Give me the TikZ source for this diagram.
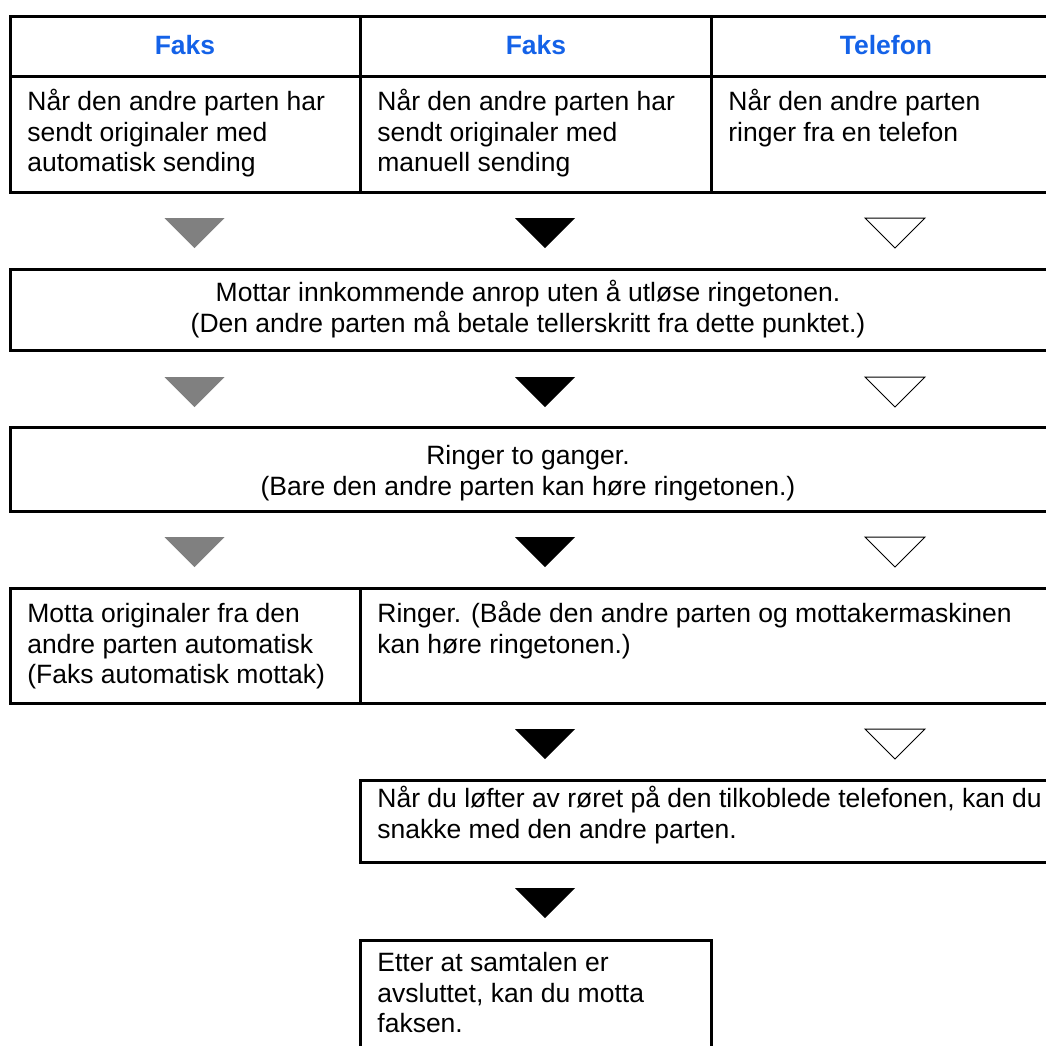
\documentclass[tikz,border=0pt]{standalone}
\usepackage{fontspec}
\setmainfont{Liberation Sans}
\usepackage{xcolor}
\usepackage{tikz}
\definecolor{headblue}{RGB}{20,98,232}
\definecolor{arrgray}{RGB}{128,128,128}
\newcommand{\bodyfont}{\fontsize{13.25}{15.3}\selectfont}

\begin{document}
\begin{tikzpicture}[
      x=0.5pt, y=-0.5pt,
      frame/.style={line width=1.5pt},
      head/.style={anchor=base, inner sep=0pt, font=\bodyfont\bfseries, text=headblue},
      cell/.style={anchor=north west, inner sep=0pt, align=left, font=\bodyfont, yshift=10.71pt},
      mid/.style={anchor=north, inner sep=0pt, align=center, font=\bodyfont, yshift=10.71pt},
      tri/.pic={\path[pic actions] (-30,0) -- (30,0) -- (0,30) -- cycle;},
      grayarr/.style={fill=arrgray},
      blackarr/.style={fill=black},
      whitearr/.style={draw=black, line width=0.5pt, fill=white}
    ]
    \useasboundingbox (0,0) rectangle (1046,1046);
    \clip (0,0) rectangle (1046,1046);

    % frames
    \draw[frame] (10,16) rectangle (1060,192);
    \draw[frame] (10,76) -- (1060,76);
    \draw[frame] (360,16) -- (360,192);
    \draw[frame] (711,16) -- (711,192);
    \draw[frame] (10,269) rectangle (1060,350);
    \draw[frame] (10,427) rectangle (1060,511);
    \draw[frame] (10,588) rectangle (1060,703);
    \draw[frame] (360,588) -- (360,703);
    \draw[frame] (360,780) rectangle (1060,862);
    \draw[frame] (360,940) rectangle (711,1060);

    % headers
    \node[head] (hdfax1) at (185,54)   {Faks};
    \node[head] (hdfax2) at (536,54)   {Faks};
    \node[head] (hdtel)  at (886,54)   {Telefon};

    \node[cell] (autosend)  at (27,110)  {\strut Når den andre parten har\\sendt originaler med\\automatisk sending};
    \node[cell] (mansend)   at (377,110) {\strut Når den andre parten har\\sendt originaler med\\manuell sending};
    \node[cell] (phonecall) at (728,110) {\strut Når den andre parten\\ringer fra en telefon};

    \node[mid] (silentrecv) at (528,301) {\strut Mottar innkommende anrop uten å utløse ringetonen.\\(Den andre parten må betale tellerskritt fra dette punktet.)};
    \node[mid] (ringtwice)  at (528,464) {\strut Ringer to ganger.\\(Bare den andre parten kan høre ringetonen.)};

    \node[cell] (autorecv) at (27,622)  {\strut Motta originaler fra den\\andre parten automatisk\\(Faks automatisk mottak)};
    \node[cell] (ringboth) at (377,622) {\strut Ringer. (Både den andre parten og mottakermaskinen\\kan høre ringetonen.)};
    \node[cell] (pickup)   at (377,807) {\strut Når du løfter av røret på den tilkoblede telefonen, kan du\\snakke med den andre parten.};
    \node[cell] (afterfax) at (377,971) {\strut Etter at samtalen er\\avsluttet, kan du motta\\faksen.};

    % down markers
    \foreach \ty in {218,377,537} {
      \pic[grayarr]  at (194.5,\ty) {tri};
      \pic[blackarr] at (545,\ty)   {tri};
      \pic[whitearr] at (895,\ty)   {tri};
    }
    \pic[blackarr] at (545,729) {tri};
    \pic[whitearr] at (895,729) {tri};
    \pic[blackarr] at (545,888) {tri};
  \end{tikzpicture}
\end{document}
